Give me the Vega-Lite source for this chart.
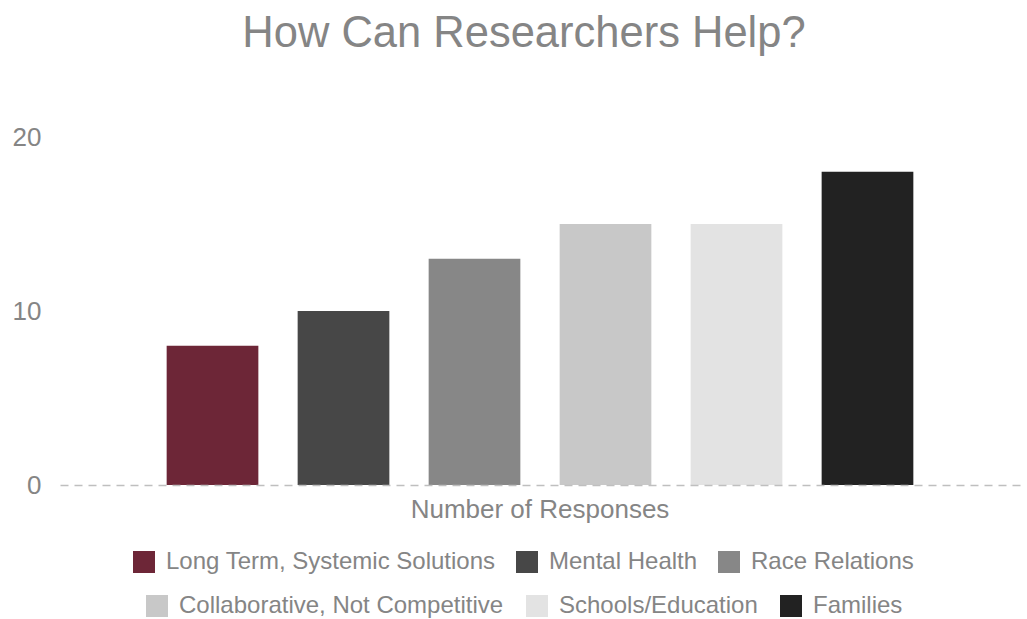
{
  "$schema": "https://vega.github.io/schema/vega-lite/v6.json",
  "width": 960,
  "height": 348,
  "autosize": {"type": "none"},
  "padding": {"left": 60, "top": 137, "right": 7, "bottom": 134},
  "background": "white",
  "title": {
    "text": "How Can Researchers Help?",
    "font": "Liberation Sans",
    "fontSize": 43.5,
    "fontWeight": "normal",
    "color": "#858585",
    "anchor": "middle",
    "dx": -16,
    "offset": 68
  },
  "data": {
    "values": [
      {"category": "Number of Responses", "series": "Long Term, Systemic Solutions", "row": 1, "value": 8},
      {"category": "Number of Responses", "series": "Mental Health", "row": 1, "value": 10},
      {"category": "Number of Responses", "series": "Race Relations", "row": 1, "value": 13},
      {"category": "Number of Responses", "series": "Collaborative, Not Competitive", "row": 2, "value": 15},
      {"category": "Number of Responses", "series": "Schools/Education", "row": 2, "value": 15},
      {"category": "Number of Responses", "series": "Families", "row": 2, "value": 18}
    ]
  },
  "encoding": {
    "x": {
      "field": "category",
      "type": "nominal",
      "scale": {"paddingInner": 0, "paddingOuter": 0.1107},
      "axis": {
        "title": null,
        "labelAngle": 0,
        "labelFont": "Liberation Sans",
        "labelFontSize": 26,
        "labelColor": "#858585",
        "labelPadding": 11,
        "labelLimit": 600,
        "ticks": false,
        "domain": true,
        "domainColor": "#bfbfbf",
        "domainWidth": 1.5,
        "domainDash": [8, 6],
        "zindex": 1
      }
    },
    "xOffset": {
      "field": "series",
      "type": "nominal",
      "scale": {
        "domain": ["Long Term, Systemic Solutions", "Mental Health", "Race Relations", "Collaborative, Not Competitive", "Schools/Education", "Families"],
        "paddingInner": 0.3,
        "paddingOuter": 0.15
      }
    },
    "y": {
      "field": "value",
      "type": "quantitative",
      "scale": {"domain": [0, 20]},
      "axis": {
        "title": null,
        "values": [0, 10, 20],
        "grid": false,
        "domain": false,
        "ticks": false,
        "labelFont": "Liberation Sans",
        "labelFontSize": 26,
        "labelColor": "#858585",
        "labelPadding": 19
      }
    }
  },
  "layer": [
    {
      "transform": [{"filter": "datum.row == 1"}],
      "mark": {"type": "bar"},
      "encoding": {
        "color": {
          "field": "series",
          "type": "nominal",
          "scale": {
            "domain": ["Long Term, Systemic Solutions", "Mental Health", "Race Relations"],
            "range": ["#6d2637", "#474747", "#878787"]
          },
          "legend": {
            "title": null,
            "orient": "none",
            "legendX": 72,
            "legendY": 413,
            "direction": "horizontal",
            "columns": 3,
            "symbolType": "square",
            "symbolSize": 484,
            "symbolStrokeWidth": 0,
            "symbolOpacity": 1,
            "labelFont": "Liberation Sans",
            "labelFontSize": 24,
            "labelColor": "#858585",
            "labelOffset": 10,
            "labelLimit": 500,
            "columnPadding": 19
          }
        }
      }
    },
    {
      "transform": [{"filter": "datum.row == 2"}],
      "mark": {"type": "bar"},
      "encoding": {
        "color": {
          "field": "series",
          "type": "nominal",
          "scale": {
            "domain": ["Collaborative, Not Competitive", "Schools/Education", "Families"],
            "range": ["#c8c8c8", "#e3e3e3", "#222222"]
          },
          "legend": {
            "title": null,
            "orient": "none",
            "legendX": 85,
            "legendY": 457,
            "direction": "horizontal",
            "columns": 3,
            "symbolType": "square",
            "symbolSize": 484,
            "symbolStrokeWidth": 0,
            "symbolOpacity": 1,
            "labelFont": "Liberation Sans",
            "labelFontSize": 24,
            "labelColor": "#858585",
            "labelOffset": 10,
            "labelLimit": 500,
            "columnPadding": 21
          }
        }
      }
    }
  ],
  "resolve": {"scale": {"color": "independent"}, "legend": {"color": "independent"}},
  "config": {"view": {"stroke": null}}
}
